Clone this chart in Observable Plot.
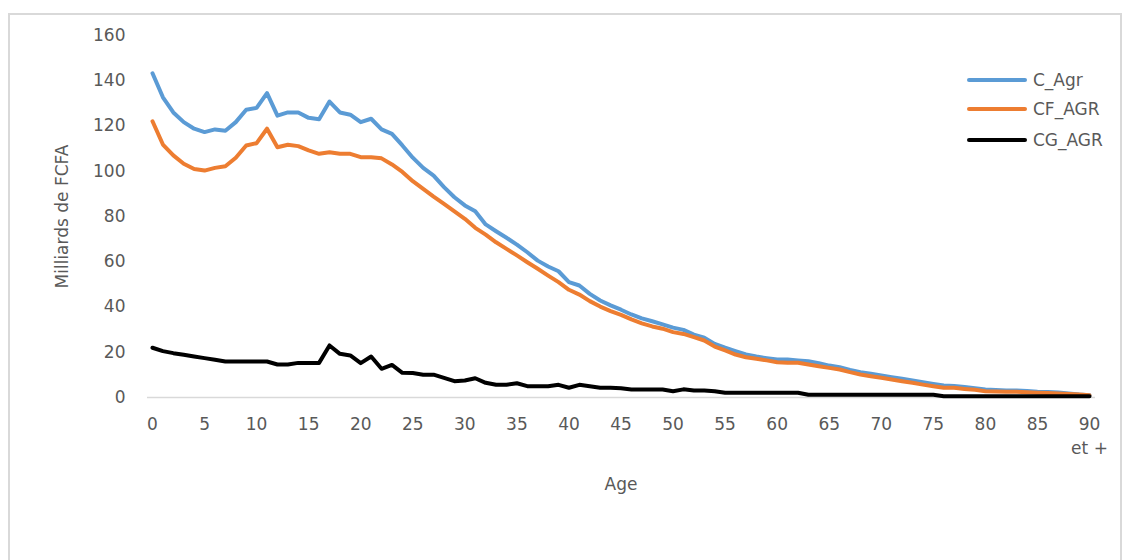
<!DOCTYPE html>
<html>
<head>
<meta charset="utf-8">
<script src="https://cdn.jsdelivr.net/npm/d3@7"></script>
<script src="https://cdn.jsdelivr.net/npm/@observablehq/plot@0.6"></script>
<style>
  html, body { margin: 0; padding: 0; background: #fff; overflow: hidden; }
  #chart { position: relative; width: 1123px; height: 560px; overflow: hidden; font-family: "DejaVu Sans", sans-serif; color: #595959; }
  #frame { position: absolute; left: 8px; top: 13px; width: 1110px; height: 700px;
           border: 2px solid #d9d9d9; pointer-events: none; }
  #legend { position: absolute; left: 967px; top: 0; }
  .item { position: absolute; left: 0; height: 20px; display: flex; align-items: center; white-space: nowrap; font-size: 17px; }
  .swatch { width: 60px; height: 4px; border-radius: 2px; margin-right: 6px; }
</style>
</head>
<body>
<div id="chart"><div id="frame"></div></div>
<script>
// Age, in single years from 0 to "90 et +"
const ages = d3.range(0, 91);

// Series names and colours
const seriesNames = ["C_Agr", "CF_AGR", "CG_AGR"];
const seriesColors = ["#5b9bd5", "#ed7d31", "#000000"];

// Values, in billions of FCFA, by age
const cAgr = [
  143.3, 132.7, 126.0, 121.7, 118.8, 117.3, 118.5, 117.9, 121.7, 127.2,
  128.0, 134.5, 124.6, 126.0, 126.0, 123.6, 123.0, 130.8, 126.0, 125.0,
  121.7, 123.2, 118.5, 116.5, 111.4, 106.0, 101.5, 98.1, 93.0, 88.5,
  84.9, 82.3, 76.5, 73.5, 70.6, 67.6, 64.2, 60.5, 57.9, 55.8,
  51.0, 49.5, 45.8, 42.9, 40.7, 38.8, 36.7, 35.0, 33.7, 32.3,
  30.9, 29.9, 27.8, 26.4, 23.7, 22.0, 20.5, 19.0, 18.1, 17.4,
  16.8, 16.8, 16.4, 16.0, 15.2, 14.1, 13.4, 12.2, 11.2, 10.5,
  9.7, 9.0, 8.3, 7.5, 6.8, 6.0, 5.3, 5.1, 4.6, 4.1,
  3.5, 3.3, 3.1, 3.1, 2.9, 2.5, 2.4, 2.2, 1.8, 1.3,
  1.0
];
const cfAgr = [
  122.1, 111.8, 107.0, 103.3, 101.0, 100.3, 101.5, 102.2, 106.0, 111.4,
  112.4, 118.8, 110.6, 111.7, 111.1, 109.2, 107.7, 108.4, 107.7, 107.7,
  106.2, 106.2, 105.7, 103.0, 99.7, 95.6, 92.2, 88.8, 85.6, 82.3,
  79.0, 75.0, 72.0, 68.6, 65.7, 62.8, 59.8, 56.9, 53.9, 51.0,
  47.6, 45.5, 42.6, 40.2, 38.2, 36.5, 34.5, 32.8, 31.4, 30.4,
  28.9, 28.1, 26.7, 25.2, 22.5, 20.8, 19.0, 17.8, 17.1, 16.4,
  15.6, 15.4, 15.4, 14.6, 13.8, 13.1, 12.4, 11.2, 10.2, 9.4,
  8.7, 8.0, 7.2, 6.5, 5.7, 5.0, 4.3, 4.3, 3.8, 3.4,
  2.8, 2.7, 2.5, 2.5, 2.3, 2.1, 2.0, 1.8, 1.6, 1.3,
  1.0
];
const cgAgr = [
  22.0, 20.5, 19.6, 18.9, 18.1, 17.4, 16.7, 15.9, 15.9, 15.9,
  15.9, 15.9, 14.6, 14.6, 15.3, 15.3, 15.3, 23.0, 19.3, 18.6,
  15.2, 18.1, 12.7, 14.4, 10.9, 10.8, 10.1, 10.1, 8.7, 7.2,
  7.5, 8.5, 6.5, 5.6, 5.6, 6.3, 5.0, 5.0, 5.0, 5.6,
  4.3, 5.6, 5.0, 4.3, 4.3, 4.1, 3.5, 3.5, 3.5, 3.5,
  2.8, 3.6, 3.1, 3.1, 2.8, 2.1, 2.1, 2.1, 2.1, 2.1,
  2.1, 2.1, 2.1, 1.2, 1.2, 1.2, 1.2, 1.2, 1.2, 1.2,
  1.2, 1.2, 1.2, 1.2, 1.2, 1.2, 0.6, 0.6, 0.6, 0.6,
  0.6, 0.6, 0.6, 0.6, 0.6, 0.6, 0.6, 0.6, 0.6, 0.6,
  0.6
];

// Axis ticks and labels
const xTicks = d3.range(0, 91, 5);
const yTicks = [0, 20, 40, 60, 80, 100, 120, 140, 160];
const xLabel = "Age";
const yLabel = "Milliards de FCFA";
const openAgeNote = [{age: 90, note: "et +"}];

// Long table: one row per series and age, in drawing order
const seriesValues = [cAgr, cfAgr, cgAgr];
const rows = seriesNames.flatMap((name, i) =>
  ages.map((age, j) => ({series: name, age, value: seriesValues[i][j]}))
);

const textColor = "#595959";

const svg = Plot.plot({
  width: 1123,
  height: 560,
  marginLeft: 152,
  marginRight: 34,
  marginTop: 35,
  marginBottom: 163,
  style: {fontFamily: "DejaVu Sans, sans-serif", fontSize: "17px", color: textColor, background: "transparent", overflow: "visible"},
  x: {domain: [0, 90]},
  y: {domain: [0, 160]},
  color: {domain: seriesNames, range: seriesColors},
  marks: [
    Plot.axisY({ticks: yTicks, tickSize: 0, tickPadding: 27, fill: textColor,
      label: yLabel, labelAnchor: "center", labelArrow: "none", labelOffset: 97}),
    Plot.axisX({ticks: xTicks, tickSize: 0, tickPadding: 20, fill: textColor,
      label: xLabel, labelAnchor: "center", labelArrow: "none", labelOffset: 92}),
    Plot.ruleY([0], {stroke: "#d9d9d9", strokeWidth: 1.5, insetLeft: -5, insetRight: -6}),
    Plot.line(rows, {x: "age", y: "value", z: "series", stroke: "series",
      strokeWidth: 4, strokeLinejoin: "round", strokeLinecap: "round"}),
    Plot.text(openAgeNote, {x: "age", y: () => 0, text: "note", dy: 51, fill: textColor, fontSize: 17})
  ]
});

const chart = document.getElementById("chart");
chart.insertBefore(svg, chart.firstChild);
svg.style.position = "absolute";
svg.style.left = "0px";
svg.style.top = "0px";

// Legend at the upper right
const legend = document.createElement("div");
legend.id = "legend";
const legendY = [80, 109, 140];
seriesNames.forEach((name, i) => {
  const item = document.createElement("div");
  item.className = "item";
  item.style.top = (legendY[i] - 10) + "px";
  const sw = document.createElement("span");
  sw.className = "swatch";
  sw.style.background = seriesColors[i];
  const label = document.createElement("span");
  label.textContent = name;
  item.appendChild(sw);
  item.appendChild(label);
  legend.appendChild(item);
});
chart.appendChild(legend);
</script>
</body>
</html>
